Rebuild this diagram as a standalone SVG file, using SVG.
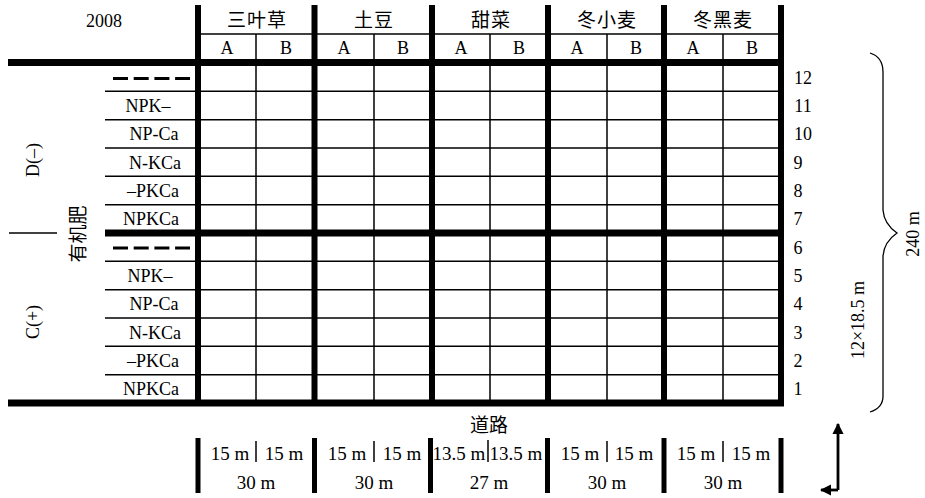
<svg xmlns="http://www.w3.org/2000/svg" width="925" height="498" viewBox="0 0 925 498">
<style>
.t{font-family:"Liberation Serif","Noto Sans CJK SC",serif;font-size:18px;fill:#000;text-anchor:middle}
.c{font-family:"Liberation Serif","Noto Sans CJK SC",serif;font-size:19px;fill:#000;text-anchor:middle}
.b{font-family:"Liberation Serif",serif;font-size:19px;fill:#000;text-anchor:middle}
.thick{stroke:#000;stroke-width:6;fill:none}
.thin{stroke:#000;stroke-width:1.5;fill:none}
.dash{stroke:#000;stroke-width:3.2;stroke-dasharray:15 5.7;fill:none}
.bar{stroke:#000;stroke-width:5;fill:none}
</style>
<defs>
<marker id="ah" viewBox="0 0 10 10" refX="9" refY="5" markerWidth="4" markerHeight="4" orient="auto" markerUnits="strokeWidth">
<path d="M0,0 L10,5 L0,10 z" fill="#000"/>
</marker>
</defs>
<rect width="925" height="498" fill="#fff"/>

<g id="grid-thin">
<line class="thin" x1="197" y1="34" x2="781" y2="34"/>
<line class="thin" x1="256" y1="34" x2="256" y2="403"/>
<line class="thin" x1="374" y1="34" x2="374" y2="403"/>
<line class="thin" x1="490" y1="34" x2="490" y2="403"/>
<line class="thin" x1="607" y1="34" x2="607" y2="403"/>
<line class="thin" x1="723" y1="34" x2="723" y2="403"/>
<line class="thin" x1="105" y1="91.3" x2="781" y2="91.3"/>
<line class="thin" x1="105" y1="119.7" x2="781" y2="119.7"/>
<line class="thin" x1="105" y1="148" x2="781" y2="148"/>
<line class="thin" x1="105" y1="176.3" x2="781" y2="176.3"/>
<line class="thin" x1="105" y1="204.7" x2="781" y2="204.7"/>
<line class="thin" x1="105" y1="261.3" x2="781" y2="261.3"/>
<line class="thin" x1="105" y1="289.7" x2="781" y2="289.7"/>
<line class="thin" x1="105" y1="318" x2="781" y2="318"/>
<line class="thin" x1="105" y1="346.3" x2="781" y2="346.3"/>
<line class="thin" x1="105" y1="374.7" x2="781" y2="374.7"/>
</g>

<g id="grid-thick">
<line class="thick" x1="8" y1="62.5" x2="784" y2="62.5" style="stroke-width:7"/>
<line class="thick" x1="105" y1="233" x2="784" y2="233" style="stroke-width:7"/>
<line class="thick" x1="8" y1="403" x2="784" y2="403" style="stroke-width:7"/>
<line class="thick" x1="198" y1="5" x2="198" y2="403"/>
<line class="thick" x1="314.5" y1="5" x2="314.5" y2="403"/>
<line class="thick" x1="432" y1="5" x2="432" y2="403"/>
<line class="thick" x1="548" y1="5" x2="548" y2="403"/>
<line class="thick" x1="664" y1="5" x2="664" y2="403"/>
<line class="thick" x1="781" y1="5" x2="781" y2="406"/>
</g>

<g id="header">
<text class="t" x="104" y="27">2008</text>
<text class="c" x="257" y="27" letter-spacing="1">三叶草</text>
<text class="c" x="374" y="27" letter-spacing="1">土豆</text>
<text class="c" x="491" y="27" letter-spacing="1">甜菜</text>
<text class="c" x="607" y="27" letter-spacing="1">冬小麦</text>
<text class="c" x="723" y="27" letter-spacing="1">冬黑麦</text>
<text class="t" x="227" y="54">A</text><text class="t" x="286" y="54">B</text>
<text class="t" x="344" y="54">A</text><text class="t" x="403" y="54">B</text>
<text class="t" x="461" y="54">A</text><text class="t" x="519" y="54">B</text>
<text class="t" x="577" y="54">A</text><text class="t" x="636" y="54">B</text>
<text class="t" x="693" y="54">A</text><text class="t" x="752" y="54">B</text>
</g>

<g id="row-labels">
<line class="dash" x1="113" y1="78.5" x2="190" y2="78.5"/>
<text class="t" x="148" y="112">NPK–</text>
<text class="t" x="154" y="140.3">NP-Ca</text>
<text class="t" x="155" y="168.7">N-KCa</text>
<text class="t" x="153" y="197">–PKCa</text>
<text class="t" x="151" y="225.3">NPKCa</text>
<line class="dash" x1="113" y1="248" x2="190" y2="248"/>
<text class="t" x="150" y="282">NPK–</text>
<text class="t" x="154" y="310.3">NP-Ca</text>
<text class="t" x="155" y="338.7">N-KCa</text>
<text class="t" x="153" y="367">–PKCa</text>
<text class="t" x="151" y="395.3">NPKCa</text>
</g>

<g id="left-labels">
<text class="t" transform="translate(39,160) rotate(-90)">D(–)</text>
<text class="t" transform="translate(39,322) rotate(-90)">C(+)</text>
<text class="c" transform="translate(85,234) rotate(-90)">有机肥</text>
<line class="thin" x1="9" y1="233" x2="57" y2="233"/>
</g>

<g id="row-numbers">
<text class="t" x="803" y="84">12</text>
<text class="t" x="803" y="112">11</text>
<text class="t" x="803" y="140.3">10</text>
<text class="t" x="798" y="168.7">9</text>
<text class="t" x="798" y="197">8</text>
<text class="t" x="798" y="225.3">7</text>
<text class="t" x="798" y="253.7">6</text>
<text class="t" x="798" y="282">5</text>
<text class="t" x="798" y="310.3">4</text>
<text class="t" x="798" y="338.7">3</text>
<text class="t" x="798" y="367">2</text>
<text class="t" x="798" y="395.3">1</text>
</g>

<g id="brace">
<path class="thin" style="stroke-width:1.3" d="M870,53 Q883,57 883,72 L883,210 Q884,224 897,233 Q884,242 883,256 L883,396 Q883,408 870,412"/>
<text class="t" transform="translate(919,234) rotate(-90)">240 m</text>
<text class="t" transform="translate(864,320) rotate(-90)">12×18.5 m</text>
</g>

<g id="road">
<text class="c" x="489" y="432">道路</text>
</g>

<g id="dimensions">
<line class="bar" x1="198" y1="438" x2="198" y2="493"/>
<line class="bar" x1="314.5" y1="438" x2="314.5" y2="493"/>
<line class="bar" x1="430.5" y1="438" x2="430.5" y2="493"/>
<line class="bar" x1="547.5" y1="438" x2="547.5" y2="493"/>
<line class="bar" x1="664" y1="438" x2="664" y2="493"/>
<line class="bar" x1="781" y1="438" x2="781" y2="493"/>
<line class="thin" x1="256" y1="441" x2="256" y2="462"/>
<line class="thin" x1="374" y1="441" x2="374" y2="462"/>
<line class="thin" x1="488" y1="440" x2="488" y2="462"/>
<line class="thin" x1="607" y1="441" x2="607" y2="462"/>
<line class="thin" x1="723" y1="441" x2="723" y2="462"/>
<text class="b" x="230" y="460">15 m</text><text class="b" x="284" y="460">15 m</text>
<text class="b" x="347" y="460">15 m</text><text class="b" x="402" y="460">15 m</text>
<text class="b" x="459" y="460">13.5 m</text><text class="b" x="516" y="460">13.5 m</text>
<text class="b" x="580" y="460">15 m</text><text class="b" x="634" y="460">15 m</text>
<text class="b" x="696" y="460">15 m</text><text class="b" x="751" y="460">15 m</text>
<text class="b" x="256" y="489">30 m</text>
<text class="b" x="374" y="489">30 m</text>
<text class="b" x="489" y="489">27 m</text>
<text class="b" x="607" y="489">30 m</text>
<text class="b" x="723" y="489">30 m</text>
</g>

<g id="connectors">
<polyline points="838,490 838,424" fill="none" stroke="#000" stroke-width="2.8" marker-end="url(#ah)"/>
<polyline points="838,490 821,490" fill="none" stroke="#000" stroke-width="2.8" marker-end="url(#ah)"/>
</g>
</svg>
